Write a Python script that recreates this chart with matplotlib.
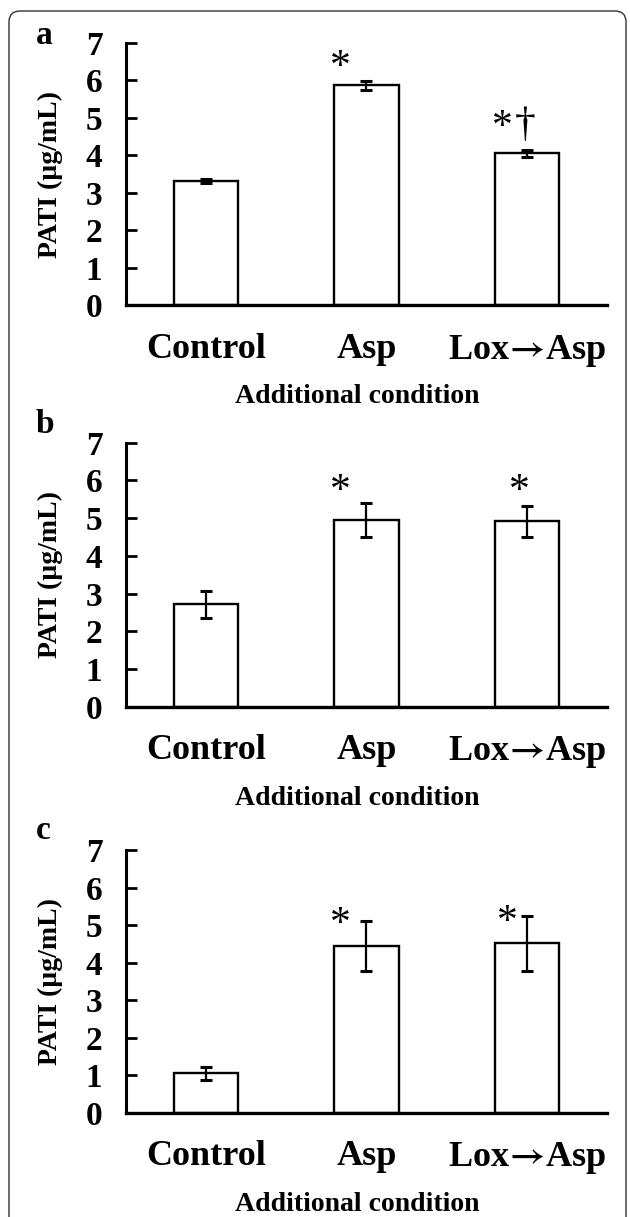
import numpy as np
import matplotlib.pyplot as plt
from matplotlib.patches import FancyBboxPatch
from matplotlib.transforms import IdentityTransform

plt.rcParams['font.family'] = ['Liberation Serif', 'DejaVu Serif']
plt.rcParams['font.weight'] = 'bold'
plt.rcParams['mathtext.fontset'] = 'stix'

conditions = ['Control', 'Asp', r'Lox$\!\rightarrow\!$Asp']
panel_labels = ['a', 'b', 'c']

pati_a = [3.31, 5.86, 4.05]
err_a = [0.06, 0.13, 0.09]
pati_b = [2.72, 4.95, 4.92]
err_b = [0.36, 0.46, 0.41]
pati_c = [1.05, 4.45, 4.51]
err_c = [0.18, 0.67, 0.73]

# significance marks: (text, x in bar units, baseline y)
marks_a = [('*', 0.835, 6.05), ('*', 1.845, 4.45), ('†', 1.99, 4.50)]
marks_b = [('*', 0.836, 5.44), ('*', 1.953, 5.44)]
marks_c = [('*', 0.836, 4.73), ('*', 1.876, 4.78)]

W, H = 630, 1217
fig = plt.figure(figsize=(W / 100, H / 100), dpi=100)

# axes boxes in pixels: left, right, top, bottom
boxes = [(126, 607, 42.7, 305.3), (126, 607, 442.7, 706.7), (126, 607, 850, 1112.7)]
letter_base = [44, 433, 839]

panels = [(pati_a, err_a, marks_a), (pati_b, err_b, marks_b), (pati_c, err_c, marks_c)]
x = np.arange(len(conditions))

for i, (vals, errs, marks) in enumerate(panels):
    l, r, t, b = boxes[i]
    ax = fig.add_axes([l / W, 1 - b / H, (r - l) / W, (b - t) / H])
    ax.bar(x, vals, width=0.4, color='white', edgecolor='black', linewidth=1.7,
           yerr=errs, error_kw=dict(ecolor='black', elinewidth=1.6, capsize=4, capthick=2.2))
    ax.set_xlim(-0.5, 2.5)
    ax.set_ylim(0, 7)
    ax.set_yticks(range(8))
    ax.set_xticks(x)
    ax.set_xticklabels(conditions, fontsize=26, fontweight='bold')
    for lab in ax.get_yticklabels():
        lab.set_fontsize(24)
        lab.set_fontweight('bold')
    ax.tick_params(axis='y', direction='in', length=8, width=2, pad=17)
    ax.tick_params(axis='x', length=0, pad=20)
    for s in ['top', 'right']:
        ax.spines[s].set_visible(False)
    ax.spines['left'].set_linewidth(2.2)
    ax.spines['bottom'].set_linewidth(2.4)
    ax.set_xlabel('Additional condition', fontsize=20, fontweight='bold', labelpad=11)
    ax.xaxis.label.set_x(0.48)
    ax.set_ylabel('PATI (µg/mL)', fontsize=20, fontweight='bold', labelpad=16)
    for txt, mx, my in marks:
        ax.text(mx, my, txt, ha='center', va='baseline', fontsize=30,
                fontweight='normal', clip_on=False)
    fig.text(36 / W, 1 - letter_base[i] / H, panel_labels[i], fontsize=24,
             fontweight='bold', ha='left', va='baseline')

border = FancyBboxPatch((9, -30), 617, H - 11 + 30, boxstyle='round,pad=0,rounding_size=11',
                        transform=IdentityTransform(), facecolor='none',
                        edgecolor='#333333', linewidth=1.0)
fig.patches.append(border)

fig.savefig('out.png', dpi=100)
